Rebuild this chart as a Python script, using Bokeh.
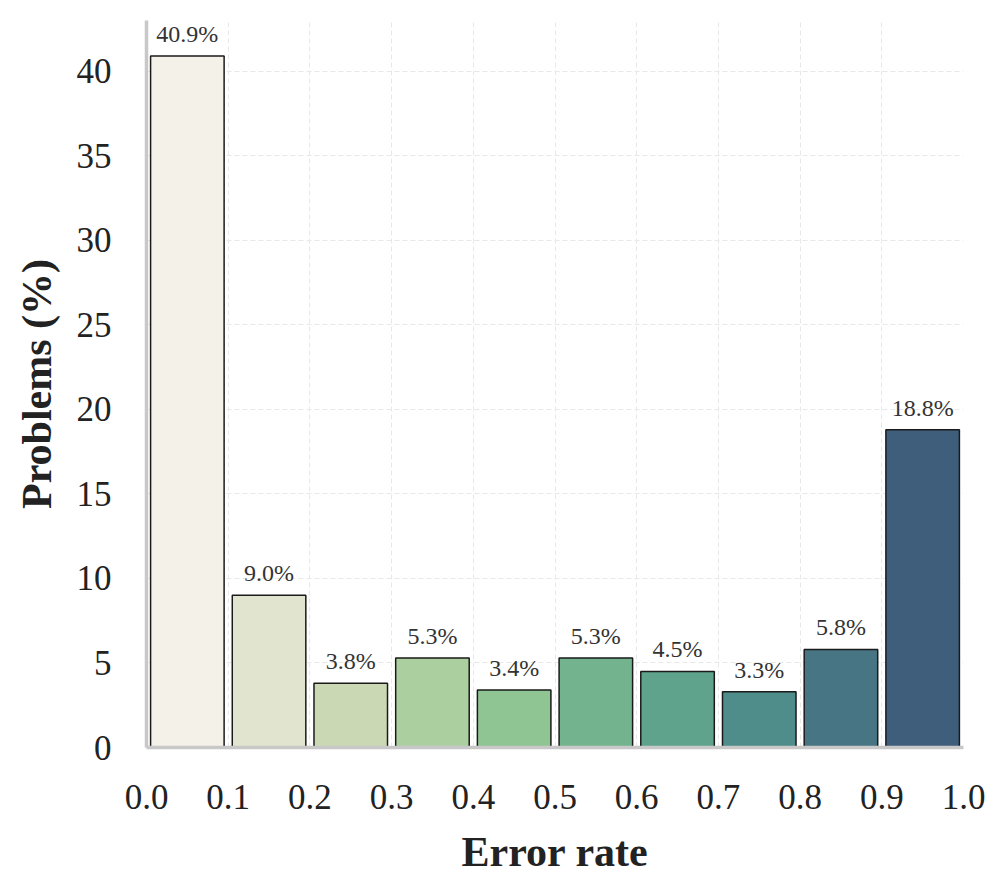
from bokeh.plotting import figure
from bokeh.models import ColumnDataSource, SingleIntervalTicker, FixedTicker, NumeralTickFormatter, Range1d
from bokeh.embed import file_html
from bokeh.resources import INLINE
from bokeh.core.properties import value

# data
bin_edges = [0.0, 0.1, 0.2, 0.3, 0.4, 0.5, 0.6, 0.7, 0.8, 0.9, 1.0]
problems_pct = [40.9, 9.0, 3.8, 5.3, 3.4, 5.3, 4.5, 3.3, 5.8, 18.8]
bar_colors = ["#f4f1e9", "#e1e4ce", "#cad9b3", "#abcf9f", "#8fc493", "#73b48f",
              "#5fa38d", "#4f8d8a", "#477584", "#3e5e7c"]
x_ticks = [0.0, 0.1, 0.2, 0.3, 0.4, 0.5, 0.6, 0.7, 0.8, 0.9, 1.0]
x_label = "Error rate"
y_label = "Problems (%)"

centers = [(bin_edges[i] + bin_edges[i + 1]) / 2 for i in range(len(problems_pct))]
labels = [f"{v:.1f}%" for v in problems_pct]
src = ColumnDataSource(dict(x=centers, top=problems_pct, color=bar_colors, label=labels))

FONT = "Liberation Serif"

p = figure(width=990, height=877, output_backend="svg", toolbar_location=None,
           x_range=Range1d(0, 1.0), y_range=Range1d(0, 43.0),
           min_border_left=146, min_border_right=27, min_border_top=20, min_border_bottom=125)
p.outline_line_color = None
p.background_fill_color = "white"

p.vbar(x="x", top="top", width=0.09, bottom=0, source=src, fill_color="color",
       line_color="#1a1a1a", line_width=1.5)

p.text(x="x", y="top", text="label", source=src, text_align="center", text_baseline="bottom",
       y_offset=-9, text_font=value(FONT), text_font_size="24px", text_color="#333333")

# grid
p.xgrid.ticker = FixedTicker(ticks=x_ticks)
p.ygrid.ticker = SingleIntervalTicker(interval=5)
for g in (p.xgrid, p.ygrid):
    g.grid_line_color = "#e8e8e8"
    g.grid_line_dash = "5 3"
    g.grid_line_width = 1

# axes
p.xaxis.ticker = FixedTicker(ticks=x_ticks)
p.xaxis.formatter = NumeralTickFormatter(format="0.0")
p.yaxis.ticker = SingleIntervalTicker(interval=5)
for ax in (p.xaxis, p.yaxis):
    ax.axis_line_color = "#c8c8c8"
    ax.axis_line_width = 3.5
    ax.major_tick_line_color = None
    ax.minor_tick_line_color = None
    ax.major_label_text_font = FONT
    ax.major_label_text_font_size = "35px"
    ax.major_label_text_color = "#222222"
    ax.axis_label_text_font = FONT
    ax.axis_label_text_font_style = "bold"
    ax.axis_label_text_font_size = "42px"
    ax.axis_label_text_color = "#222222"

p.xaxis.axis_label = x_label
p.yaxis.axis_label = y_label
p.xaxis.major_label_standoff = 31
p.yaxis.major_label_standoff = 29
p.xaxis.axis_label_standoff = 17
p.yaxis.axis_label_standoff = 14

open("out.html", "w").write(file_html(p, INLINE))
